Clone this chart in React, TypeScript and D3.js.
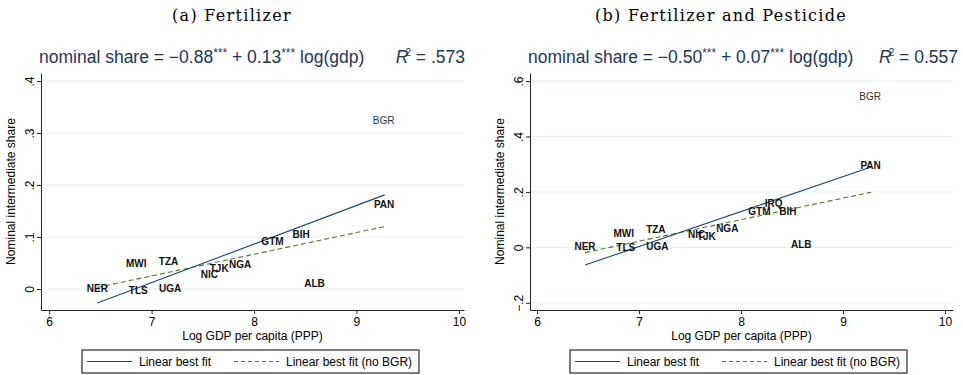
import { useRef, useEffect } from "react";
import * as d3 from "d3";

// countries shown as marker labels
const countries = ["NER", "TLS", "UGA", "MWI", "TZA", "NIC", "TJK", "NGA", "GTM", "BIH", "ALB", "PAN", "BGR", "IRQ"];
const logGdp = [6.47, 6.87, 7.18, 6.85, 7.165, 7.565, 7.66, 7.865, 8.18, 8.46, 8.59, 9.27, 9.265, 8.32];
// IRQ has no fertilizer-only value
const fertShare = [0.002, -0.002, 0.001, 0.05, 0.054, 0.029, 0.039, 0.047, 0.091, 0.105, 0.01, 0.162, 0.325, null];
const fertPestShare = [0.002, -0.001, 0.002, 0.049, 0.065, 0.047, 0.038, 0.07, 0.128, 0.128, 0.011, 0.294, 0.544, 0.158];

// fitted lines, read at their two ends
const fitX = [6.47, 9.275];
const fertFitAll = [-0.027, 0.181];
const fertFitNoBgr = [0.003, 0.12];
const fertPestFitAll = [-0.064, 0.29];
const fertPestFitNoBgr = [-0.019, 0.199];

const xTicks = [6, 7, 8, 9, 10];
const fertYTicks = [0, 0.1, 0.2, 0.3, 0.4];
const fertYTickLabels = ["0", ".1", ".2", ".3", ".4"];
const fertPestYTicks = [-0.2, 0, 0.2, 0.4, 0.6];
const fertPestYTickLabels = ["\u2212.2", "0", ".2", ".4", ".6"];
const legendLabels = ["Linear best fit", "Linear best fit (no BGR)"];

const NAVY = "#1a476f";
const GREEN = "#55752f";
const SUB = "#1e3560";
const SANS = "'Liberation Sans', Arial, sans-serif";

interface PanelCfg {
  title: string;
  titleX: number;
  intercept: string;
  slope: string;
  r2: string;
  left: number;
  right: number;
  xDomain: [number, number];
  yDomain: [number, number];
  yTicks: number[];
  yTickLabels: string[];
  shares: (number | null)[];
  fitAll: number[];
  fitNoBgr: number[];
  subEnd: number;
  legendLeft: number;
}

const TOP = 73;
const BOTTOM = 310;

const panels: PanelCfg[] = [
  {
    title: "(a) Fertilizer",
    titleX: 232,
    intercept: "\u22120.88",
    slope: "0.13",
    r2: ".573",
    left: 41,
    right: 464,
    xDomain: [5.92, 10.05],
    yDomain: [-0.0404, 0.4154],
    yTicks: fertYTicks,
    yTickLabels: fertYTickLabels,
    shares: fertShare,
    fitAll: fertFitAll,
    fitNoBgr: fertFitNoBgr,
    subEnd: 465,
    legendLeft: 82,
  },
  {
    title: "(b) Fertilizer and Pesticide",
    titleX: 721,
    intercept: "\u22120.50",
    slope: "0.07",
    r2: "0.557",
    left: 530,
    right: 953,
    xDomain: [5.931, 10.078],
    yDomain: [-0.226, 0.629],
    yTicks: fertPestYTicks,
    yTickLabels: fertPestYTickLabels,
    shares: fertPestShare,
    fitAll: fertPestFitAll,
    fitNoBgr: fertPestFitNoBgr,
    subEnd: 958,
    legendLeft: 570,
  },
];

const App = () => {
  const ref = useRef<SVGSVGElement | null>(null);

  useEffect(() => {
    const svg = d3.select(ref.current);
    svg.selectAll("*").remove();

    panels.forEach((cfg) => {
      const x = d3.scaleLinear().domain(cfg.xDomain).range([cfg.left, cfg.right]);
      const y = d3.scaleLinear().domain(cfg.yDomain).range([BOTTOM, TOP]);
      const g = svg.append("g").style("font-family", SANS);

      // panel caption (LaTeX style)
      g.append("text")
        .attr("x", cfg.titleX)
        .attr("y", 21)
        .attr("text-anchor", "middle")
        .style("font-family", "'DejaVu Serif', serif")
        .style("font-size", "16px")
        .style("letter-spacing", "1.3px")
        .text(cfg.title);

      // regression subtitle
      const sub = g
        .append("text")
        .attr("x", cfg.left - 2)
        .attr("y", 63)
        .style("font-size", "17.5px")
        .attr("fill", SUB);
      sub.append("tspan").text(`nominal share = ${cfg.intercept}`);
      sub.append("tspan").attr("dy", -6).style("font-size", "12px").text("***");
      sub.append("tspan").attr("dy", 6).text(` + ${cfg.slope}`);
      sub.append("tspan").attr("dy", -6).style("font-size", "12px").text("***");
      sub.append("tspan").attr("dy", 6).text(" log(gdp)");

      const r2 = g
        .append("text")
        .attr("x", cfg.subEnd)
        .attr("y", 63)
        .attr("text-anchor", "end")
        .style("font-size", "17.5px")
        .attr("fill", SUB);
      r2.append("tspan").style("font-style", "italic").text("R");
      r2.append("tspan").attr("dy", -7).attr("dx", -3).style("font-size", "10px").text("2");
      r2.append("tspan").attr("dy", 7).text(` = ${cfg.r2}`);

      // grid
      g.selectAll(".grid")
        .data(cfg.yTicks)
        .enter()
        .append("line")
        .attr("x1", cfg.left)
        .attr("x2", cfg.right)
        .attr("y1", (d) => y(d))
        .attr("y2", (d) => y(d))
        .attr("stroke", "#e6eff1")
        .attr("stroke-width", 1);

      // axes
      const yAxis = g
        .append("g")
        .attr("transform", `translate(${cfg.left},0)`)
        .call(
          d3
            .axisLeft(y)
            .tickValues(cfg.yTicks)
            .tickSize(4)
            .tickSizeOuter(0)
            .tickFormat((_d, i) => cfg.yTickLabels[i])
        );
      yAxis
        .selectAll("text")
        .attr("x", null)
        .attr("dy", null)
        .attr("text-anchor", "middle")
        .attr("transform", "translate(-7,0) rotate(-90)")
        .style("font-family", SANS)
        .style("font-size", "12px")
        .attr("fill", "#000");

      const xAxis = g
        .append("g")
        .attr("transform", `translate(0,${BOTTOM})`)
        .call(
          d3
            .axisBottom(x)
            .tickValues(xTicks)
            .tickSize(4)
            .tickSizeOuter(0)
            .tickFormat(d3.format("d"))
        );
      xAxis
        .selectAll("text")
        .style("font-family", SANS)
        .style("font-size", "12px")
        .attr("fill", "#000");
      g.selectAll(".domain, .tick line").attr("stroke", "#222");

      // axis titles
      g.append("text")
        .attr("transform", `translate(${cfg.left - 26},${(TOP + BOTTOM) / 2}) rotate(-90)`)
        .attr("text-anchor", "middle")
        .style("font-size", "12px")
        .text("Nominal intermediate share");
      g.append("text")
        .attr("x", (cfg.left + cfg.right) / 2)
        .attr("y", 340)
        .attr("text-anchor", "middle")
        .style("font-size", "12px")
        .text("Log GDP per capita (PPP)");

      // fitted lines
      const lineFunc = d3
        .line<[number, number]>()
        .x((d) => x(d[0]))
        .y((d) => y(d[1]));
      g.append("path")
        .attr("d", lineFunc(fitX.map((v, i) => [v, cfg.fitNoBgr[i]] as [number, number])))
        .attr("stroke", GREEN)
        .attr("stroke-width", 1.1)
        .attr("stroke-dasharray", "5,3")
        .attr("fill", "none");
      g.append("path")
        .attr("d", lineFunc(fitX.map((v, i) => [v, cfg.fitAll[i]] as [number, number])))
        .attr("stroke", NAVY)
        .attr("stroke-width", 1.1)
        .attr("fill", "none");

      // country labels
      const pts = countries
        .map((c, i) => ({ c, gdp: logGdp[i], share: cfg.shares[i] }))
        .filter((d) => d.share !== null) as { c: string; gdp: number; share: number }[];
      g.selectAll(".lab")
        .data(pts)
        .enter()
        .append("text")
        .attr("x", (d) => x(d.gdp))
        .attr("y", (d) => y(d.share))
        .attr("dy", "0.36em")
        .attr("text-anchor", "middle")
        .style("font-size", "10px")
        .style("font-weight", (d) => (d.c === "BGR" ? "normal" : "bold"))
        .attr("fill", (d) => (d.c === "BGR" ? "#333" : "#111"))
        .text((d) => d.c);

      // legend
      const lg = g.append("g").attr("transform", `translate(${cfg.legendLeft},350)`);
      lg.append("rect")
        .attr("width", 337)
        .attr("height", 23)
        .attr("fill", "#fff")
        .attr("stroke", "#000")
        .attr("stroke-width", 1);
      lg.append("line").attr("x1", 5).attr("x2", 50).attr("y1", 11.5).attr("y2", 11.5).attr("stroke", NAVY).attr("stroke-width", 1.1);
      lg.append("line")
        .attr("x1", 152)
        .attr("x2", 197)
        .attr("y1", 11.5)
        .attr("y2", 11.5)
        .attr("stroke", GREEN)
        .attr("stroke-width", 1.1)
        .attr("stroke-dasharray", "4,3");
      lg.selectAll(".lt")
        .data(legendLabels)
        .enter()
        .append("text")
        .attr("x", (_d, i) => (i === 0 ? 57 : 204))
        .attr("y", 16)
        .style("font-size", "12px")
        .text((d) => d);
    });
  }, []);

  return (
    <svg
      ref={ref}
      width={963}
      height={375}
      style={{ position: "absolute", left: 0, top: 0, background: "#fff" }}
    />
  );
};

export default App;
